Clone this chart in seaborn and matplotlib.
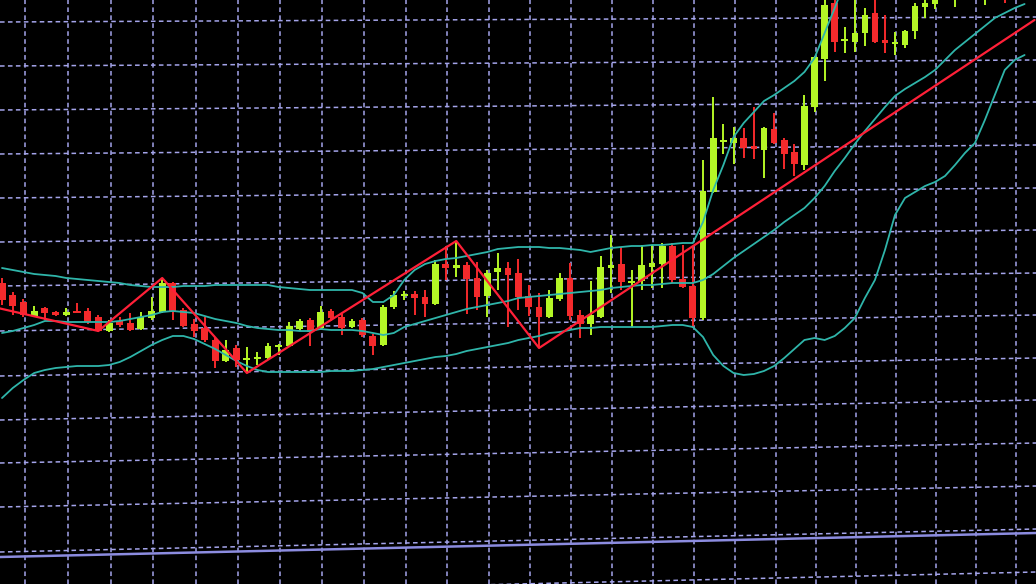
import numpy as np
import pandas as pd
import matplotlib
matplotlib.use("Agg")
import matplotlib.pyplot as plt
import seaborn as sns

# candle prices, one entry per bar (price units of the chart)
open_ = [317, 305, 298, 284, 292, 288, 285, 289, 289, 283,
         269, 279, 277, 271, 282, 288, 317, 290, 276, 272,
         260, 239, 252, 240, 241, 242, 253, 254, 271, 280,
         272, 289, 283, 273, 280, 264, 255, 293, 304, 306,
         303, 296, 336, 332, 335, 322, 304, 328, 332, 327,
         304, 293, 283, 301, 322, 285, 276, 283, 332, 336,
         317, 319, 333, 336, 354, 321, 314, 282, 408, 458,
         457, 462, 454, 450, 471, 460, 448, 435, 493, 541,
         597, 559, 558, 567, 587, 560, 556, 555, 569, 593,
         596, 610, 605, 615, 620, 608, 618, 622, 612, 620]
high = [322, 308, 301, 294, 293, 289, 292, 297, 292, 285,
        280, 283, 287, 288, 303, 322, 318, 292, 281, 283,
        262, 260, 255, 253, 248, 257, 256, 278, 281, 282,
        294, 291, 286, 281, 282, 266, 295, 309, 309, 309,
        310, 340, 354, 359, 338, 338, 330, 347, 338, 341,
        315, 307, 310, 327, 337, 290, 319, 344, 365, 353,
        330, 355, 355, 357, 357, 355, 353, 440, 503, 476,
        473, 472, 493, 473, 487, 462, 456, 505, 544, 602,
        605, 573, 605, 592, 605, 585, 568, 570, 597, 603,
        608, 625, 622, 630, 628, 622, 632, 628, 630, 634]
low = [295, 285, 283, 283, 280, 284, 284, 287, 276, 268,
       268, 273, 269, 270, 280, 287, 280, 273, 263, 258,
       232, 238, 233, 227, 235, 240, 245, 253, 269, 254,
       270, 279, 265, 272, 263, 245, 254, 291, 300, 285,
       283, 295, 320, 323, 286, 290, 283, 310, 273, 290,
       284, 252, 282, 299, 280, 262, 265, 282, 307, 310,
       273, 310, 312, 312, 317, 312, 272, 280, 407, 446,
       436, 442, 441, 422, 456, 431, 424, 430, 488, 519,
       548, 547, 548, 554, 557, 547, 545, 552, 561, 582,
       591, 605, 593, 608, 606, 595, 610, 597, 606, 612]
close = [300, 294, 285, 289, 287, 285, 288, 287, 278, 269,
         277, 275, 270, 283, 289, 317, 289, 274, 269, 260,
         239, 250, 240, 242, 243, 254, 255, 274, 279, 268,
         288, 282, 272, 279, 265, 254, 293, 305, 306, 302,
         296, 336, 332, 335, 321, 303, 327, 332, 325, 303,
         293, 283, 302, 322, 284, 276, 285, 333, 335, 318,
         319, 335, 337, 354, 320, 313, 282, 409, 462, 460,
         462, 452, 451, 472, 457, 446, 436, 494, 543, 595,
         558, 561, 567, 585, 558, 557, 558, 569, 594, 597,
         605, 620, 615, 625, 612, 618, 626, 610, 622, 628]

# Bollinger bands (20, 2)
nan = np.nan
upper_band = [332, 330, 328, 326, 325, 324, 322, 321, 320, 319,
              318, 317, 315, 314, 313, 313, 313, 314, 314, 314,
              315, 315, 315, 315, 315, 315, 313, 312, 311, 310,
              310, 310, 310, 310, 307, 298, 298, 305, 320, 330,
              336, 339, 341, 342, 344, 346, 348, 351, 352, 353,
              353, 353, 352, 352, 351, 350, 348, 350, 352, 353,
              354, 354, 355, 355, 356, 357, 357, 378, 410, 435,
              463, 477, 488, 499, 505, 512, 519, 528, 542, 567,
              592, 618, nan, nan, nan, nan, nan, nan, nan, nan,
              nan, nan, nan, nan, nan, nan, nan, nan, nan, nan]
middle_band = [267, 269, 272, 275, 279, 279, 278, 278, 278, 278,
               278, 279, 281, 283, 285, 288, 289, 288, 287, 284,
               281, 279, 277, 274, 272, 271, 270, 270, 269, 269,
               271, 270, 270, 270, 269, 267, 265, 267, 273, 276,
               279, 282, 285, 288, 291, 293, 295, 297, 299, 302,
               303, 304, 305, 306, 307, 308, 309, 310, 312, 313,
               314, 315, 315, 316, 317, 317, 317, 320, 326, 334,
               342, 349, 356, 363, 370, 378, 385, 392, 402, 414,
               429, 442, 456, 469, 481, 493, 504, 511, 517, 523,
               530, 540, 550, 558, 566, 574, 582, 587, 592, 596]
lower_band = [202, 212, 220, 227, 230, 232, 233, 234, 234, 234,
              235, 238, 243, 249, 255, 260, 264, 264, 261, 256,
              251, 245, 239, 234, 230, 228, 228, 228, 228, 228,
              228, 229, 229, 229, 230, 231, 233, 235, 237, 239,
              241, 243, 244, 246, 249, 251, 253, 255, 257, 260,
              262, 264, 267, 268, 270, 272, 272, 273, 273, 273,
              273, 273, 273, 274, 275, 275, 273, 263, 245, 234,
              227, 225, 226, 229, 234, 242, 251, 260, 262, 260,
              264, 272, 282, 302, 320, 350, 385, 402, 408, 414,
              418, 424, 435, 447, 457, 480, 505, 530, 540, 545]

# ZigZag swing points (bar, price)
zigzag_bar = [-2, 9, 15, 23, 43, 51, 100]
zigzag_price = [296, 269, 322, 227, 359, 252, 580]

# price grid levels at the left and right edge (screen is photographed at a slight angle)
grid_left = [578, 534, 490, 446, 402, 358, 314, 269, 224, 180, 137, 93, 48, 4]
grid_right = [583, 540, 498, 455, 412, 370, 327, 285, 242, 200, 157, 114, 71, 28]
base_left, base_right = 43, 67

BULL = "#b4f626"
BEAR = "#f42a2c"
BAND = "#2fb5aa"
ZIG = "#ff2038"
GRID = "#a4a4ea"

sns.set_theme(style="dark", rc={"axes.facecolor": "black", "figure.facecolor": "black"})

# perspective of the photo: bars get slightly narrower to the right
qa, qb, qc = 2.0, 10.744, -0.00419

def fwd(i):
    i = np.asarray(i, dtype=float)
    return qa + qb * i + qc * i ** 2

def inv(p):
    p = np.asarray(p, dtype=float)
    disc = np.clip(qb * qb + 4 * qc * (p - qa), 1e-9, None)
    return (-qb + np.sqrt(disc)) / (2 * qc)

fig = plt.figure(figsize=(10.36, 5.84), dpi=100)
ax = fig.add_axes([0, 0, 1, 1])
ax.set_xscale("function", functions=(fwd, inv))
x0, x1 = float(inv(0)), float(inv(1036))

bars = np.arange(len(open_))
o = np.array(open_, dtype=float)
c = np.array(close, dtype=float)
colors = np.where(c >= o, BULL, BEAR)

# grid
for k in range(25):
    ax.axvline(2.14 + 4 * k, color=GRID, lw=1.1, ls=(0, (3, 2.2)), zorder=1)
for yl, yr in zip(grid_left, grid_right):
    ax.plot([x0, x1], [yl, yr], color=GRID, lw=1.1, ls=(0, (3, 2.2)), zorder=1)
ax.plot([x0, x1], [base_left, base_right], color="#8c8ce0", lw=1.8, zorder=1)

# candles
ax.vlines(bars, low, high, colors=colors, lw=1.4, zorder=3)
ax.bar(bars, np.maximum(np.abs(c - o), 1.6), bottom=np.minimum(o, c),
       width=0.66, color=colors, linewidth=0, zorder=3)

# indicators
bands = pd.DataFrame({"bar": bars, "upper": upper_band,
                      "middle": middle_band, "lower": lower_band})
for col in ["upper", "middle", "lower"]:
    sns.lineplot(data=bands, x="bar", y=col, color=BAND, lw=1.3, ax=ax, zorder=4)
zz = pd.DataFrame({"bar": zigzag_bar, "price": zigzag_price})
sns.lineplot(data=zz, x="bar", y="price", color=ZIG, lw=1.6, ax=ax, zorder=5, sort=False)

ax.set_xlim(x0, x1)
ax.set_ylim(16, 600)
ax.set_xticks([])
ax.set_yticks([])
ax.set_xlabel("")
ax.set_ylabel("")
for s in ax.spines.values():
    s.set_visible(False)

fig.savefig("out.png", dpi=100, facecolor="black")
